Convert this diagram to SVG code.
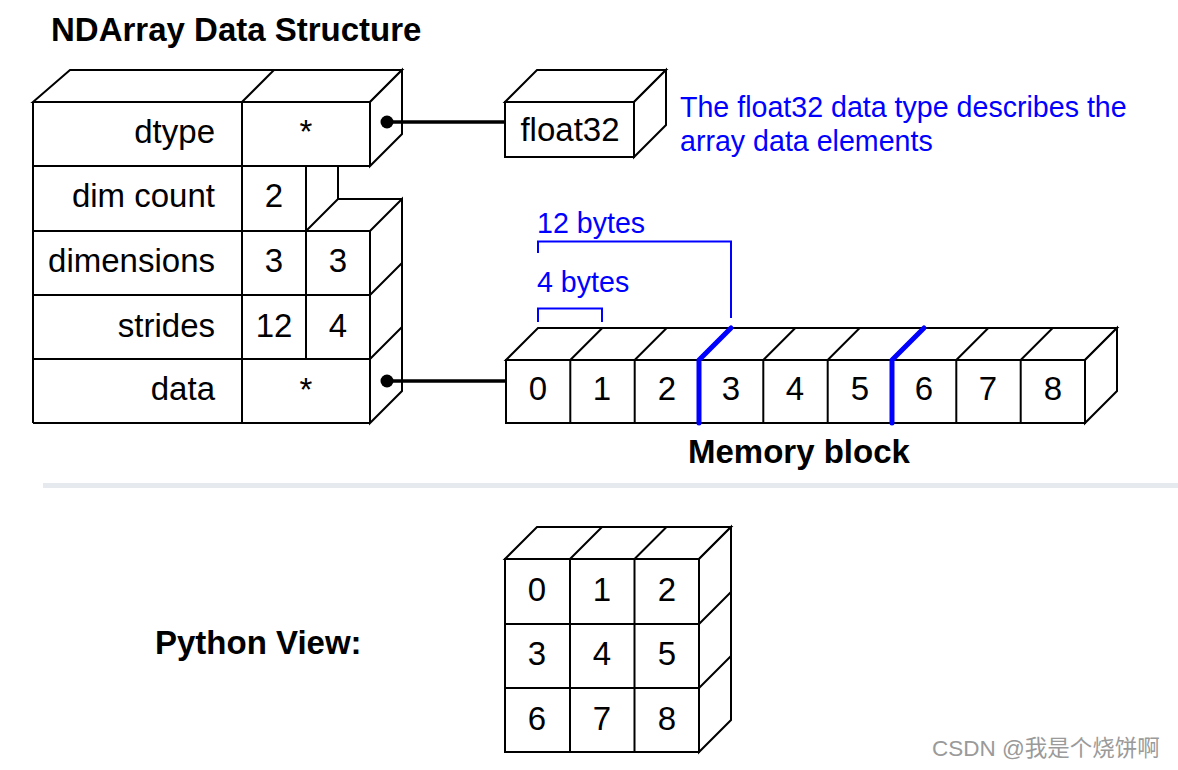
<svg xmlns="http://www.w3.org/2000/svg" width="1178" height="770" viewBox="0 0 1178 770">
<style>
.ln{fill:none;stroke:#000;stroke-width:2;stroke-linejoin:miter}
.bx{fill:#fff;stroke:#000;stroke-width:2}
.t{font-family:"Liberation Sans",Arial,sans-serif;font-size:33px;fill:#000}
.c{text-anchor:middle}
.e{text-anchor:end}
.b{font-family:"Liberation Sans",Arial,sans-serif;font-size:33px;font-weight:bold;fill:#000}
.bl{font-family:"Liberation Sans",Arial,sans-serif;font-size:28.6px;fill:#0000ff}
.blue{fill:none;stroke:#0000ff;stroke-width:2}
.hl{fill:none;stroke:#0000ff;stroke-width:5;stroke-linecap:round;stroke-linejoin:round}
.con{stroke:#000;stroke-width:3.5;fill:none}
</style>
<rect width="1178" height="770" fill="#fff"/>
<text class="b" x="51" y="41">NDArray Data Structure</text>

<g id="ndarray">
<path class="bx" d="M33,102 L70,70 L402,70 L370,102 Z"/>
<path class="ln" d="M242,102 L274,70"/>
<path class="bx" d="M370,102 L402,70 L402,134 L370,166 Z"/>
<path class="ln" d="M338,166 L338,199 L402,199 M306,231 L338,199"/>
<path class="bx" d="M370,231 L402,199 L402,391 L370,423 Z"/>
<path class="ln" d="M370,295 L402,263 M370,359 L402,327"/>
<path class="ln" d="M33,102 H370 V166 M33,166 H370 M33,231 H370 V423 M33,295 H370 M33,359 H370 M33,423 H370 M33,102 V423 M242,102 V423 M306,166 V359"/>
<text class="t e" x="215" y="143">dtype</text>
<text class="t c" x="306" y="143">*</text>
<text class="t e" x="215" y="207">dim count</text>
<text class="t c" x="274" y="207">2</text>
<text class="t e" x="215" y="272">dimensions</text>
<text class="t c" x="274" y="272">3</text>
<text class="t c" x="338" y="272">3</text>
<text class="t e" x="215" y="337">strides</text>
<text class="t c" x="274" y="337">12</text>
<text class="t c" x="338" y="337">4</text>
<text class="t e" x="215" y="400">data</text>
<text class="t c" x="306" y="401">*</text>
</g>

<g id="float32">
<path class="bx" d="M505,102 L537,70 L666,70 L634,102 Z"/>
<path class="bx" d="M634,102 L666,70 L666,125 L634,157 Z"/>
<rect class="bx" x="505" y="102" width="129" height="55"/>
<text class="t c" x="570" y="141">float32</text>
</g>

<g id="note">
<text class="bl" x="680" y="117">The float32 data type describes the</text>
<text class="bl" x="680" y="151">array data elements</text>
</g>

<g id="connectors">
<circle cx="387" cy="122" r="6.5" fill="#000"/>
<line class="con" x1="387" y1="122" x2="505" y2="122"/>
<circle cx="387" cy="381" r="6.5" fill="#000"/>
<line class="con" x1="387" y1="381" x2="506" y2="381"/>
</g>

<g id="memory">
<path class="bx" d="M506,360 L538,328 L1117,328 L1085,360 Z"/>
<path class="bx" d="M1085,360 L1117,328 L1117,391 L1085,423 Z"/>
<rect class="bx" x="506" y="360" width="579" height="63"/>
<path class="ln" d="M570.3,360 L602.3,328 M634.7,360 L666.7,328 M763.3,360 L795.3,328 M827.7,360 L859.7,328 M956.3,360 L988.3,328 M1020.7,360 L1052.7,328"/>
<path class="ln" d="M570.3,360 V423 M634.7,360 V423 M699,360 V423 M763.3,360 V423 M827.7,360 V423 M892,360 V423 M956.3,360 V423 M1020.7,360 V423"/>
<text class="t c" x="538" y="400">0</text>
<text class="t c" x="602" y="400">1</text>
<text class="t c" x="667" y="400">2</text>
<text class="t c" x="731" y="400">3</text>
<text class="t c" x="795" y="400">4</text>
<text class="t c" x="860" y="400">5</text>
<text class="t c" x="924" y="400">6</text>
<text class="t c" x="988" y="400">7</text>
<text class="t c" x="1053" y="400">8</text>
<path class="hl" d="M699,423 V360 L731,328"/>
<path class="hl" d="M892,423 V360 L924,328"/>
<path class="blue" d="M538,253 V241.5 H731 V318"/>
<path class="blue" d="M538,322 V308.5 H602 V322"/>
<text class="bl" x="537" y="233">12 bytes</text>
<text class="bl" x="537" y="292">4 bytes</text>
<text class="b" x="688" y="463">Memory block</text>
</g>

<rect x="43" y="483" width="1135" height="5" fill="#e6e9ed"/>

<g id="python-view">
<text class="b" x="155" y="654">Python View:</text>
<path class="bx" d="M505,559 L537,527 L731,527 L699,559 Z"/>
<path class="bx" d="M699,559 L731,527 L731,720 L699,752 Z"/>
<rect class="bx" x="505" y="559" width="194" height="193"/>
<path class="ln" d="M570,559 L602,527 M634.5,559 L666.5,527 M699,624 L731,592 M699,688 L731,656"/>
<path class="ln" d="M570,559 V752 M634.5,559 V752 M505,624 H699 M505,688 H699"/>
<text class="t c" x="537" y="601">0</text>
<text class="t c" x="602" y="601">1</text>
<text class="t c" x="667" y="601">2</text>
<text class="t c" x="537" y="665">3</text>
<text class="t c" x="602" y="665">4</text>
<text class="t c" x="667" y="665">5</text>
<text class="t c" x="537" y="730">6</text>
<text class="t c" x="602" y="730">7</text>
<text class="t c" x="667" y="730">8</text>
</g>

<text x="932" y="756" font-family="'Liberation Sans','Noto Sans CJK SC',sans-serif" font-size="22.5" fill="#9a9a9a">CSDN @我是个烧饼啊</text>
</svg>
